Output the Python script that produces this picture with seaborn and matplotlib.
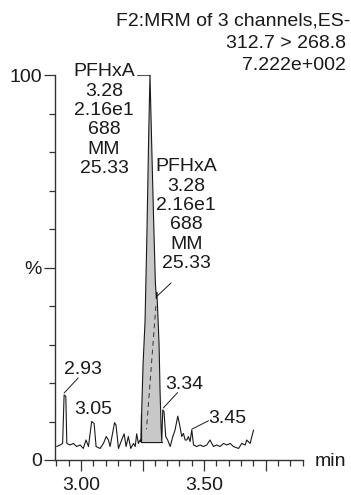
import numpy as np
import pandas as pd
import seaborn as sns
import matplotlib.pyplot as plt
from matplotlib.ticker import MultipleLocator, FixedLocator

# Chromatogram trace: retention time (min), intensity (%)
rt = [2.901, 2.915, 2.925, 2.931, 2.938, 2.942, 2.955, 2.969, 2.982, 2.996,
      3.009, 3.020, 3.030, 3.043, 3.053, 3.061, 3.077, 3.091, 3.102, 3.111,
      3.118, 3.136, 3.142, 3.152, 3.165, 3.175, 3.183, 3.192, 3.202, 3.213,
      3.220, 3.226, 3.233, 3.240,
      3.243, 3.246, 3.252, 3.260, 3.268, 3.275, 3.280, 3.287, 3.295, 3.302,
      3.306, 3.308, 3.312, 3.317, 3.321, 3.325, 3.328,
      3.332, 3.337, 3.344, 3.352, 3.362, 3.373, 3.382, 3.393, 3.402, 3.409,
      3.416, 3.423, 3.430, 3.436, 3.443, 3.450, 3.457, 3.470, 3.484, 3.497,
      3.511, 3.524, 3.538, 3.551, 3.565, 3.579, 3.592, 3.606, 3.619, 3.640,
      3.653, 3.667, 3.673, 3.687, 3.701]
intensity = [3.5, 3.9, 4.3, 16.9, 16.5, 4.3, 3.9, 4.3, 3.5, 3.9,
             3.0, 5.2, 3.5, 10.0, 9.5, 3.5, 3.0, 4.3, 6.1, 5.2,
             3.5, 9.7, 9.1, 3.0, 5.2, 6.8, 3.5, 6.1, 3.0, 4.3,
             3.5, 6.8, 4.3, 5.2,
             4.8, 12.0, 25.0, 36.0, 60.0, 85.0, 100.0, 82.0, 62.0, 46.0,
             42.0, 43.5, 38.0, 30.0, 18.0, 9.0, 4.8,
             13.0, 12.6, 6.1, 5.2, 3.5, 6.1, 7.8, 11.4, 8.7, 6.1,
             6.9, 5.2, 5.2, 6.1, 4.8, 7.8, 3.9, 3.5, 3.9, 3.5,
             3.9, 5.2, 3.5, 3.9, 3.5, 4.3, 3.9, 4.3, 3.5, 3.0,
             4.3, 3.9, 5.2, 4.3, 7.8]

# integrated peak (start, end, baseline level)
area_start, area_end, area_base = 3.243, 3.328, 4.8
# dashed trace inside the peak
dash_rt = [3.304, 3.266]
dash_int = [40.0, 8.0]

# labelled peaks: (label, rt, intensity)
small_peaks = [("2.93", 2.931, 16.9), ("3.05", 3.043, 10.0),
               ("3.34", 3.332, 13.0), ("3.45", 3.450, 7.8)]
peak_info = "PFHxA\n3.28\n2.16e1\n688\nMM\n25.33"
header = ["F2:MRM of 3 channels,ES-", "312.7 > 268.8", "7.222e+002"]

df = pd.DataFrame({"rt": rt, "intensity": intensity})

sns.set_theme(style="ticks")
plt.rcParams['font.family'] = ['Liberation Sans', 'DejaVu Sans']
ink = "#1a1a1a"
fs = 14

W, H = 351, 495
fig = plt.figure(figsize=(W / 100, H / 100), dpi=100)
ax = fig.add_axes([55 / W, 1 - 460 / H, (303 - 55) / W, (460 - 75) / H])

# shaded area
seg = df[(df.rt >= area_start) & (df.rt <= area_end)]
ax.fill_between(seg.rt, seg.intensity, area_base, color="#c8c8c8",
                edgecolor="none", zorder=1)
ax.plot([area_start, area_end], [area_base, area_base], color=ink, lw=0.9, zorder=2)
ax.plot([area_start, area_start], [area_base, 12.0], color=ink, lw=0.9, zorder=2)

sns.lineplot(data=df, x="rt", y="intensity", estimator=None, sort=False,
             color=ink, lw=0.8, ax=ax, zorder=3)
ax.plot(dash_rt, dash_int, color="#333333", lw=0.7, ls=(0, (5, 4)), zorder=3)

ax.set_xlim(2.894, 3.902)
ax.set_ylim(0, 100)
ax.set_xlabel("")
ax.set_ylabel("")

# axis styling
sns.despine(ax=ax)
for s in ("left", "bottom"):
    ax.spines[s].set_color("#333333")
    ax.spines[s].set_linewidth(1.0)
ax.yaxis.set_major_locator(FixedLocator([0, 50, 100]))
ax.set_yticklabels(["0", "%", "100"])
ax.yaxis.set_minor_locator(MultipleLocator(10))
ax.xaxis.set_major_locator(FixedLocator([3.00, 3.25, 3.50, 3.75]))
ax.set_xticklabels(["3.00", "", "3.50", ""])
ax.xaxis.set_minor_locator(MultipleLocator(0.05))
ax.tick_params(which="major", length=8, width=0.9, color="#333333",
               labelsize=fs, labelcolor=ink)
ax.tick_params(which="minor", length=4.5, width=0.9, color="#333333")
ax.tick_params(axis="y", which="major", pad=1.5)
ax.tick_params(axis="x", which="major", pad=4)

# peak labels
for lab, x, y in small_peaks:
    if lab == "2.93":
        ax.plot([x, 2.988], [y + 0.5, 21.3], color=ink, lw=0.7)
        ax.text(3.006, 23.5, lab, ha="center", va="center", fontsize=fs, color=ink)
    elif lab == "3.05":
        ax.text(3.049, 13.0, lab, ha="center", va="center", fontsize=fs, color=ink)
    elif lab == "3.34":
        ax.plot([x + 0.002, 3.392], [y + 0.5, 17.5], color=ink, lw=0.7)
        ax.text(3.419, 19.7, lab, ha="center", va="center", fontsize=fs, color=ink)
    else:
        ax.plot([x, 3.518], [y + 0.2, 10.2], color=ink, lw=0.7)
        ax.text(3.596, 10.8, lab, ha="center", va="center", fontsize=fs, color=ink)

ax.text(3.0935, 88.3, peak_info, ha="center", va="center", ma="center",
        fontsize=fs, color=ink, linespacing=1.18)
ax.plot([3.228, 3.280], [100, 100], color="#555555", lw=0.8, clip_on=False)
ax.text(3.427, 63.6, peak_info, ha="center", va="center", ma="center",
        fontsize=fs, color=ink, linespacing=1.18)
ax.plot([3.366, 3.308], [46.0, 42.5], color=ink, lw=0.7)

# header and axis unit
fig.text(350 / W, 1 - 21 / H, header[0], ha="right", va="center", fontsize=fs, color=ink)
fig.text(346 / W, 1 - 43 / H, header[1], ha="right", va="center", fontsize=fs, color=ink)
fig.text(346 / W, 1 - 65 / H, header[2], ha="right", va="center", fontsize=fs, color=ink)
fig.text(315 / W, 1 - 461 / H, "min", ha="left", va="center", fontsize=fs, color=ink)

fig.savefig("out.png", dpi=100)
